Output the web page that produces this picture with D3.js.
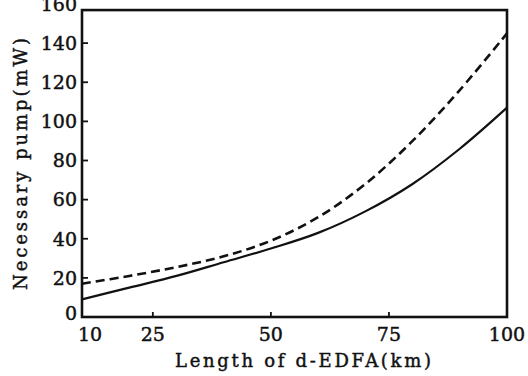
<!DOCTYPE html>
<html>
<head>
<meta charset="utf-8">
<script src="https://cdn.jsdelivr.net/npm/d3@7"></script>
<style>
  html, body { margin: 0; padding: 0; background: #fff; }
  svg { display: block; }
  .lbl { font-family: "DejaVu Serif", "Liberation Serif", serif; fill: #111; stroke: #111; stroke-width: 0.45px; }
</style>
</head>
<body>
<svg id="chart" width="528" height="376"></svg>
<script>
// fibre length (km)
var lengths = [10, 20, 30, 40, 50, 60, 70, 80, 90, 100];
// necessary pump power (mW)
var solidPump  = [9, 15, 21, 28, 35, 43, 54, 68, 86, 107];
var dashedPump = [17, 21, 25.5, 31, 39, 51, 68, 90, 116, 145];

var xTicks = [10, 25, 50, 75, 100];
var yTicks = [0, 20, 40, 60, 80, 100, 120, 140, 160];

var svg = d3.select('#chart');

var x = d3.scaleLinear().domain([10, 100]).range([82, 507]);
var y = d3.scaleLinear().domain([0, 160]).range([317, 4]);
var frameTop = y(156.9);

// frame
svg.append('rect')
    .attr('x', x(10))
    .attr('y', frameTop)
    .attr('width', x(100) - x(10))
    .attr('height', y(0) - frameTop)
    .attr('fill', 'none')
    .attr('stroke', '#111')
    .attr('stroke-width', 2.6);

// y ticks (inward) + labels
svg.selectAll('line.ytick')
    .data(yTicks.filter(function(d) { return d > 0 && d < 160; }))
    .enter().append('line')
    .attr('x1', x(10)).attr('x2', x(10) + 6)
    .attr('y1', function(d) { return y(d); })
    .attr('y2', function(d) { return y(d); })
    .attr('stroke', '#111').attr('stroke-width', 1.8);

svg.selectAll('text.ytl')
    .data(yTicks)
    .enter().append('text')
    .attr('class', 'lbl')
    .attr('x', 77)
    .attr('y', function(d) { return d === 0 ? y(d) - 4 : y(d); })
    .attr('dy', '0.36em')
    .attr('text-anchor', 'end')
    .style('font-size', '19px')
    .text(function(d) { return d; });

// x ticks (inward) + labels
svg.selectAll('line.xtick')
    .data(xTicks.filter(function(d) { return d > 10 && d < 100; }))
    .enter().append('line')
    .attr('x1', function(d) { return x(d); })
    .attr('x2', function(d) { return x(d); })
    .attr('y1', y(0)).attr('y2', y(0) - 5)
    .attr('stroke', '#111').attr('stroke-width', 1.8);

svg.selectAll('text.xtl')
    .data(xTicks)
    .enter().append('text')
    .attr('class', 'lbl')
    .attr('x', function(d) { return d === 10 ? x(d) - 4 : x(d); })
    .attr('y', 341)
    .attr('text-anchor', function(d) { return d === 10 ? 'start' : 'middle'; })
    .style('font-size', '19px')
    .text(function(d) { return d; });

// axis titles
svg.append('text')
    .attr('class', 'lbl')
    .attr('x', 175).attr('y', 367)
    .attr('textLength', 256)
    .attr('lengthAdjust', 'spacing')
    .style('font-size', '18px')
    .text('Length of d-EDFA(km)');

svg.append('text')
    .attr('class', 'lbl')
    .attr('transform', 'translate(27,290) rotate(-90)')
    .attr('textLength', 252)
    .attr('lengthAdjust', 'spacing')
    .style('font-size', '18px')
    .text('Necessary pump(mW)');

// curves
var line = d3.line()
    .x(function(d) { return x(d[0]); })
    .y(function(d) { return y(d[1]); })
    .curve(d3.curveCatmullRom);

svg.append('path')
    .datum(d3.zip(lengths, solidPump))
    .attr('d', line)
    .attr('fill', 'none')
    .attr('stroke', '#111')
    .attr('stroke-width', 2.2);

svg.append('path')
    .datum(d3.zip(lengths, dashedPump))
    .attr('d', line)
    .attr('fill', 'none')
    .attr('stroke', '#111')
    .attr('stroke-width', 2.6)
    .attr('stroke-dasharray', '9,5');
</script>
</body>
</html>
